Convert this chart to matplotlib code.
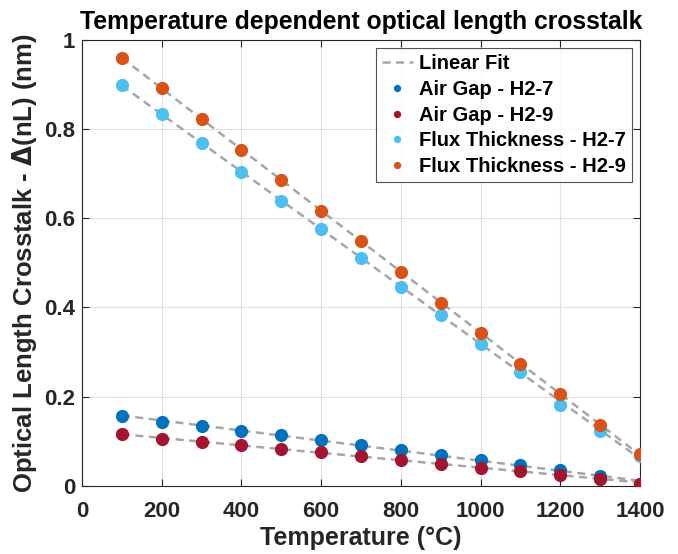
import matplotlib
matplotlib.use('Agg')
import matplotlib.pyplot as plt
import numpy as np

plt.rcParams['font.family'] = ['Liberation Sans', 'DejaVu Sans']
plt.rcParams['font.weight'] = 'bold'

# Data
temps = np.arange(100, 1500, 100)
air_h27 = [0.157, 0.144, 0.134, 0.124, 0.114, 0.102, 0.092, 0.080, 0.069, 0.058, 0.047, 0.035, 0.023, 0.005]
air_h29 = [0.116, 0.105, 0.099, 0.091, 0.082, 0.075, 0.066, 0.058, 0.050, 0.041, 0.034, 0.025, 0.016, 0.004]
flux_h27 = [0.899, 0.834, 0.769, 0.704, 0.639, 0.575, 0.510, 0.447, 0.383, 0.319, 0.256, 0.181, 0.124, 0.068]
flux_h29 = [0.960, 0.892, 0.822, 0.754, 0.686, 0.617, 0.549, 0.480, 0.411, 0.342, 0.274, 0.206, 0.137, 0.071]

series = [
    ('Air Gap - H2-7', air_h27, '#0072BD'),
    ('Air Gap - H2-9', air_h29, '#A2142F'),
    ('Flux Thickness - H2-7', flux_h27, '#4DBEEE'),
    ('Flux Thickness - H2-9', flux_h29, '#D95319'),
]

fig = plt.figure(figsize=(6.78, 5.54), dpi=100)
ax = fig.add_axes([0.121, 0.123, 0.823, 0.805])

# Linear fits (dashed gray)
for i, (name, vals, col) in enumerate(series):
    p = np.polyfit(temps, vals, 1)
    ax.plot(temps, np.polyval(p, temps), '--', color='#a6a6a6', lw=1.8,
            label='Linear Fit' if i == 0 else None, zorder=2, dashes=(3.2, 2.2))

for name, vals, col in series:
    ax.plot(temps, vals, 'o', color=col, ms=8.5, label=name, zorder=3, linestyle='none')

ax.set_xlim(0, 1400)
ax.set_ylim(0, 1)
ax.set_xticks(range(0, 1401, 200))
ax.set_yticks([0, 0.2, 0.4, 0.6, 0.8, 1])
ax.set_yticklabels(['0', '0.2', '0.4', '0.6', '0.8', '1'])
ax.grid(True, color='#e0e0e0', lw=0.8)
ax.set_axisbelow(True)
ax.tick_params(direction='in', length=5, labelsize=16, top=True, right=True,
               color='#262626', labelcolor='#262626')
ax.tick_params(axis='x', pad=11)
ax.tick_params(axis='y', pad=5)
for s in ax.spines.values():
    s.set_color('#262626')
    s.set_linewidth(0.8)

ax.set_xlabel('Temperature (°C)', fontsize=18, fontweight='bold', color='#262626', labelpad=3)
ax.set_ylabel('Optical Length Crosstalk - $\\Delta$(nL) (nm)', fontsize=18.5, fontweight='bold',
              color='#262626', labelpad=4)
ax.set_title('Temperature dependent optical length crosstalk', fontsize=17.8, fontweight='bold', pad=8)

leg = ax.legend(loc='upper right', bbox_to_anchor=(0.992, 0.99), fontsize=14.5, frameon=True, fancybox=False,
                edgecolor='#262626', handlelength=1.5, handletextpad=0.3, borderpad=0.3,
                labelspacing=0.33, markerscale=0.5, borderaxespad=0.2)
leg.get_frame().set_linewidth(0.8)
for t in leg.get_texts():
    t.set_fontweight('bold')

fig.savefig('out.png', dpi=100)
